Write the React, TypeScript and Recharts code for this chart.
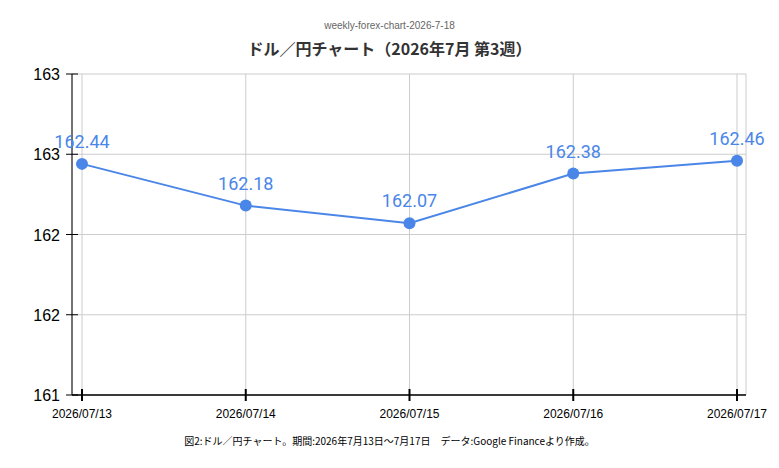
import React from 'react';
import {LineChart, Line, XAxis, YAxis, CartesianGrid, LabelList} from 'recharts';

const dates = ['2026/07/13', '2026/07/14', '2026/07/15', '2026/07/16', '2026/07/17'];
const rates = [162.44, 162.18, 162.07, 162.38, 162.46];
const yTicks = [161, 161.5, 162, 162.5, 163];

const data = dates.map((d, i) => ({date: d, rate: rates[i]}));

const BLUE = '#4a86e8';

const XTick = (props: any) => {
  const {x, y, payload} = props;
  return (
    <g>
      <line x1={x} x2={x} y1={y - 6} y2={y + 6} stroke="#000" strokeWidth={2} />
      <text x={x} y={y + 23} textAnchor="middle" fontSize={12} fill="#000"
        fontFamily="'Liberation Sans', Arial, sans-serif">{payload.value}</text>
    </g>
  );
};

const YTick = (props: any) => {
  const {x, y, payload} = props;
  return (
    <g>
      <line x1={x - 6} x2={x + 6} y1={y} y2={y} stroke="#000" strokeWidth={1} />
      <text x={x - 12} y={y + 6} textAnchor="end" fontSize={16} fill="#000"
        fontFamily="'Liberation Sans', Arial, sans-serif">{Math.round(payload.value)}</text>
    </g>
  );
};

export default function App() {
  return (
    <div style={{position: 'absolute', left: 0, top: 0, width: 779, height: 468, background: '#fff'}}>
      <div style={{position: 'absolute', top: 20, width: 779, textAlign: 'center', fontSize: 10,
        color: '#666', fontFamily: "'Liberation Sans', Arial, sans-serif"}}>weekly-forex-chart-2026-7-18</div>
      <div style={{position: 'absolute', top: 36, width: 779, textAlign: 'center', fontSize: 16,
        fontWeight: 'bold', color: '#333', fontFamily: "'Noto Sans CJK JP', sans-serif"}}>
        ドル／円チャート（2026年7月 第3週）
      </div>
      <div style={{position: 'absolute', top: 0, left: 0}}>
        <LineChart width={779} height={468} data={data}
          margin={{top: 74, right: 33, bottom: 43, left: 12}}>
          <CartesianGrid stroke="#cccccc" />
          <XAxis dataKey="date" height={30} padding={{left: 10, right: 9}}
            axisLine={{stroke: '#000', strokeWidth: 1.5}} tickLine={false}
            tickSize={0} tickMargin={0} tick={<XTick />} interval={0} />
          <YAxis width={60} domain={[161, 163]} ticks={yTicks} axisLine={{stroke: '#000'}}
            tickLine={false} tickSize={0} tickMargin={0} tick={<YTick />} />
          <Line dataKey="rate" stroke={BLUE} strokeWidth={2} isAnimationActive={false}
            dot={{r: 6, fill: BLUE, stroke: BLUE, strokeWidth: 0}} activeDot={false}>
            <LabelList dataKey="rate" position="top" offset={16} fill={BLUE} fontSize={18}
              fontFamily="Roboto, sans-serif" formatter={(v: any) => Number(v).toFixed(2)} />
          </Line>
        </LineChart>
      </div>
      <div style={{position: 'absolute', top: 433, width: 779, textAlign: 'center', fontSize: 10,
        color: '#000', fontFamily: "'Noto Sans CJK JP', sans-serif"}}>
        図2:ドル／円チャート。期間:2026年7月13日～7月17日　データ:Google Financeより作成。
      </div>
    </div>
  );
}
